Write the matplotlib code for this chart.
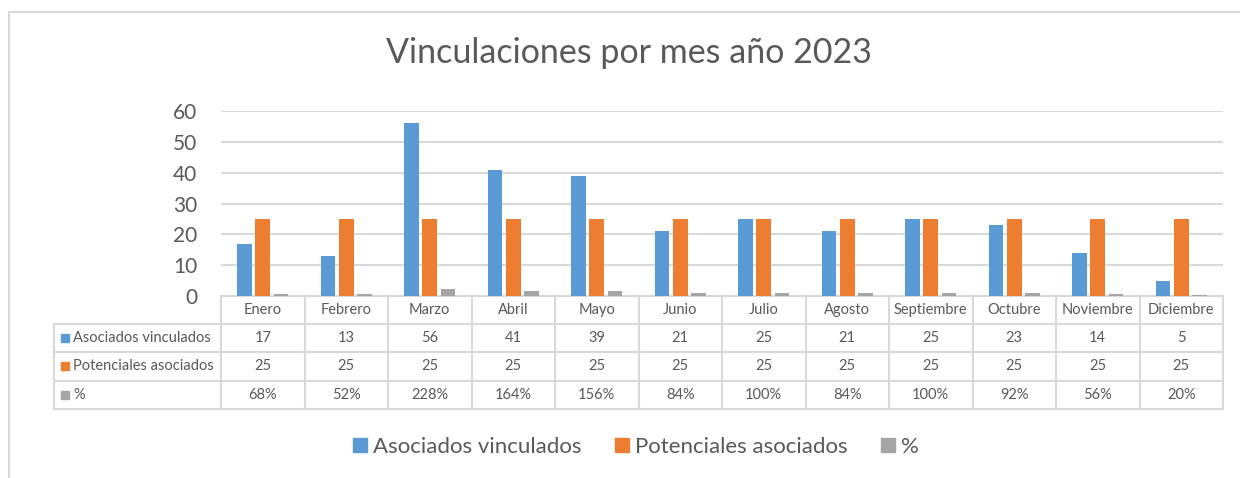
import numpy as np
import matplotlib
matplotlib.use("Agg")
import matplotlib.pyplot as plt
from matplotlib import transforms
from matplotlib.patches import Rectangle, Patch
from matplotlib.lines import Line2D

months = ["Enero", "Febrero", "Marzo", "Abril", "Mayo", "Junio", "Julio",
          "Agosto", "Septiembre", "Octubre", "Noviembre", "Diciembre"]
asociados = [17, 13, 56, 41, 39, 21, 25, 21, 25, 23, 14, 5]
potenciales = [25, 25, 25, 25, 25, 25, 25, 25, 25, 25, 25, 25]
pct = [0.68, 0.52, 2.28, 1.64, 1.56, 0.84, 1.00, 0.84, 1.00, 0.92, 0.56, 0.20]
series_names = ["Asociados vinculados", "Potenciales asociados", "%"]
title = "Vinculaciones por mes año 2023"

BLUE = "#5B9BD5"
ORANGE = "#ED7D31"
GRAY = "#A5A5A5"
TXT = "#595959"
LINE = "#D9D9D9"
FONT = "Lato"
plt.rcParams["font.family"] = [FONT, "DejaVu Sans"]

W, H = 1240, 478
fig = plt.figure(figsize=(W / 100, H / 100), dpi=100)
fx = lambda p: p / W
fy = lambda p: 1 - p / H

# outer frame
fig.add_artist(Line2D([fx(9), fx(9)], [fy(12), 0], color=LINE, lw=1.5))
fig.add_artist(Line2D([fx(9), 1], [fy(12), fy(12)], color=LINE, lw=1.5))

ax = fig.add_axes([fx(221), fy(296), (1223 - 221) / W, (296 - 111) / H])
x = np.arange(len(months))
bw = 0.175
ax.bar(x - 0.22, asociados, bw, color=BLUE, zorder=3)
ax.bar(x, potenciales, bw, color=ORANGE, zorder=3)
ax.bar(x + 0.22, pct, bw, color=GRAY, zorder=3)
ax.set_xlim(-0.5, len(months) - 0.5)
ax.set_ylim(0, 60)
ax.set_yticks(range(0, 61, 10))
ax.set_xticks([])
ax.grid(axis="y", color=LINE, lw=1.5, zorder=0)
for s in ax.spines.values():
    s.set_visible(False)
ax.tick_params(axis="y", length=0, pad=17, labelsize=15, labelcolor=TXT)
for lab in ax.get_yticklabels():
    lab.set_fontfamily(FONT)

fig.suptitle(title, x=fx(629), y=fy(53), va="center", fontsize=24.5, color=TXT,
             fontfamily=FONT)

# data table
bt = transforms.blended_transform_factory(ax.transData, fig.transFigure)
rows_y = [296, 323.5, 352, 380.5, 409]
for i in range(len(months) + 1):
    ax.add_artist(Line2D([i - 0.5, i - 0.5], [fy(rows_y[0]), fy(rows_y[-1])],
                         transform=bt, color=LINE, lw=1.5, clip_on=False))
ax.add_artist(Line2D([-0.5, len(months) - 0.5], [fy(rows_y[0]), fy(rows_y[0])],
                     transform=bt, color=LINE, lw=1.5, clip_on=False))
for ry in rows_y[1:]:
    fig.add_artist(Line2D([fx(54), fx(1223)], [fy(ry), fy(ry)], color=LINE, lw=1.5))
fig.add_artist(Line2D([fx(54), fx(54)], [fy(rows_y[1]), fy(rows_y[-1])], color=LINE, lw=1.5))

cells = [months,
         [str(v) for v in asociados],
         [str(v) for v in potenciales],
         [f"{round(v * 100)}%" for v in pct]]
for r in range(4):
    yc = fy((rows_y[r] + rows_y[r + 1]) / 2)
    for i, t in enumerate(cells[r]):
        ax.text(i, yc, t, transform=bt, ha="center", va="center", fontsize=10.5,
                color=TXT, clip_on=False, fontfamily=FONT)

colors = [BLUE, ORANGE, GRAY]
for r in range(3):
    yc = (rows_y[r + 1] + rows_y[r + 2]) / 2
    fig.add_artist(Rectangle((fx(61), fy(yc + 4)), 8 / W, 8 / H, color=colors[r],
                             transform=fig.transFigure))
    fig.text(fx(73), fy(yc), series_names[r], ha="left", va="center",
             fontsize=10.5, color=TXT, fontfamily=FONT)

handles = [Patch(color=c) for c in colors]
fig.legend(handles, series_names, loc="center", bbox_to_anchor=(fx(636), fy(447)),
           ncol=3, frameon=False, handlelength=0.63, handleheight=0.63,
           handletextpad=0.27, columnspacing=1.5, labelcolor=TXT,
           prop={"family": FONT, "size": 16})

fig.savefig("out.png", dpi=100)
